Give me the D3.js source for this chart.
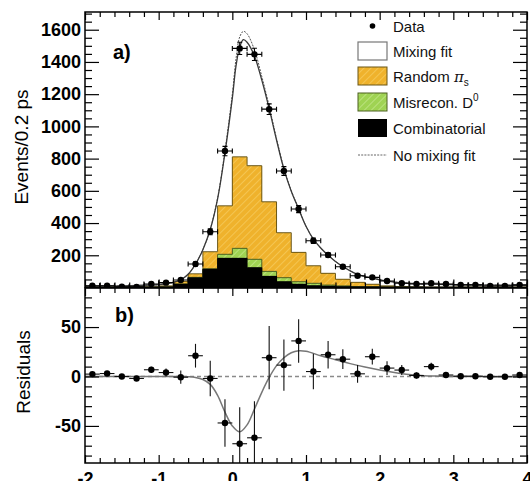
<!DOCTYPE html>
<html><head><meta charset="utf-8">
<script src="https://cdn.jsdelivr.net/npm/d3@7"></script>
<style>
body{margin:0;background:#fff}
svg{display:block}
text{font-family:"Liberation Sans",Arial,Helvetica,sans-serif}
</style>
</head><body>
<svg id="c" width="530" height="481"></svg>
<script>
// ---------------- data ----------------
const binStarts = [-2.0,-1.8,-1.6,-1.4,-1.2,-1.0,-0.8,-0.6,-0.4,-0.2,0.0,0.2,0.4,0.6,0.8,1.0,1.2,1.4,1.6,1.8,2.0,2.2,2.4,2.6,2.8,3.0,3.2,3.4,3.6,3.8];
const binCenters = [-1.9,-1.7,-1.5,-1.3,-1.1,-0.9,-0.7,-0.5,-0.3,-0.1,0.1,0.3,0.5,0.7,0.9,1.1,1.3,1.5,1.7,1.9,2.1,2.3,2.5,2.7,2.9,3.1,3.3,3.5,3.7,3.9];
const binWidth = 0.2;
const combinatorial = [2,2,2,2,2,3,20,60,113,181,181,123,69,36,20,11,8,5,3,3,2,2,2,1,1,1,1,1,1,1];
const misreconD0    = [0,0,0,0,0,1,2,3,3,25,62,52,31,25,16,15,7,5,3,2,1,1,0,0,0,0,0,0,0,0];
const randomPis     = [2,2,2,2,2,6,16,22,106,301,568,581,432,279,182,109,73,41,26,15,7,3,2,1,1,1,1,1,1,1];
const dataCounts    = [11,11,5,4,22,30,47,146,346,847,1484,1447,1107,723,487,290,202,129,73,63,40,26,22,26,22,16,16,9,9,16];
const dataErrors    = [3,3,2,2,5,6,7,12,19,29,38,38,33,27,22,17,14,11,9,8,6,5,5,5,5,4,4,3,3,4];
const fitX          = [-2,-1.5,-1.2,-1.0,-0.9,-0.8,-0.7,-0.6,-0.5,-0.4,-0.3,-0.2,-0.1,0.0,0.05,0.1,0.15,0.2,0.3,0.4,0.5,0.6,0.7,0.8,0.9,1.0,1.1,1.2,1.3,1.4,1.5,1.6,1.7,1.8,1.9,2.0,2.2,2.5,3.0,3.5,4.0];
const mixingFit     = [9,10,14,18,24,32,48,82,145,235,360,550,835,1175,1375,1492,1538,1522,1437,1287,1110,915,735,598,488,380,300,245,200,162,130,103,82,68,58,48,34,24,18,15,13];
const noMixingFit   = [9,10,14,18,24,32,48,82,145,235,362,556,850,1200,1420,1555,1590,1575,1475,1310,1125,925,740,601,490,381,300,245,200,162,130,103,82,68,58,48,34,24,18,15,13];
const residuals     = [2.4,3,0,-2,6.8,4,-0.7,21,-2,-47,-68,-62,19,11.5,36,5,22,17.5,2.7,20,8.5,6.5,1,10,1.5,0.3,0.3,-0.3,-0.3,1.5];
const residualErrors= [2,2,2,2,3,4,6.7,12,18,24,37,37,32,26,22,18,14,10,9,8,7,5,3,4,2,2,2,2,2,2];
const resFitX       = [-2,-0.7,-0.6,-0.5,-0.4,-0.3,-0.2,-0.1,0.0,0.1,0.2,0.3,0.4,0.5,0.6,0.7,0.8,0.9,1.0,1.2,1.4,1.6,1.8,2.0,2.2,2.4,2.6,2.8,3.0,4.0];
const resFit        = [0,0,-0.3,-1,-3,-8,-19,-36,-50,-56,-49,-33,-16,-1,11,19,24,26,25.5,21,17,13,9.5,6.5,4,2,0.8,0.3,0,0];
const xTickValues = [-2,-1,0,1,2,3,4];
const xTickLabels = ["-2","-1","0","1","2","3","4"];
const yTickValues = [200,400,600,800,1000,1200,1400,1600];
const yTickLabels = ["200","400","600","800","1000","1200","1400","1600"];
const resTickValues = [-50,0,50];
const resTickLabels = ["-50","0","50"];
const legendLabels = ["Data","Mixing fit","Random ","Misrecon. D","Combinatorial","No mixing fit"];

// ---------------- layout ----------------
const L=85, R=527, T1=12, B1=287.5, T2=288, B2=463;
const svg = d3.select("#c");
const x  = d3.scaleLinear([-2,4],[L,R]);
const y1 = d3.scaleLinear([0,1710],[B1,T1]);
const y2 = d3.scaleLinear([-87.5,89.5],[B2,T2]);

const defs = svg.append("defs");
function hatch(id, base, line){
  const p = defs.append("pattern").attr("id",id).attr("patternUnits","userSpaceOnUse")
    .attr("width",5).attr("height",5).attr("patternTransform","rotate(45)");
  p.append("rect").attr("width",5).attr("height",5).attr("fill",base);
  p.append("line").attr("x1",0).attr("y1",0).attr("x2",0).attr("y2",5).attr("stroke",line).attr("stroke-width",1.6);
}
hatch("hOr","#efb22c","#f6ca5c");
hatch("hGr","#9fd353","#c2e689");
defs.append("clipPath").attr("id","clip1").append("rect").attr("x",L).attr("y",T1).attr("width",R-L).attr("height",B1-T1);
defs.append("clipPath").attr("id","clip2").append("rect").attr("x",L).attr("y",T2).attr("width",R-L).attr("height",B2-T2);

// ---------------- top panel ----------------
const g1 = svg.append("g").attr("clip-path","url(#clip1)");
const cumBlack = combinatorial.slice();
const cumGreen = combinatorial.map((v,i)=>v+misreconD0[i]);
const cumOrange = cumGreen.map((v,i)=>v+randomPis[i]);
const layers = [
  {tops:cumOrange, fill:"url(#hOr)", stroke:"#6b5716"},
  {tops:cumGreen, fill:"url(#hGr)", stroke:"#4d6020"},
  {tops:cumBlack, fill:"#000", stroke:"#000"}
];
const stepLine = d3.line().x(d=>x(d[0])).y(d=>y1(d[1])).curve(d3.curveStepAfter);
layers.forEach(ly=>{
  g1.append("g").selectAll("rect").data(binStarts).join("rect")
    .attr("x",d=>x(d)).attr("width",d=>x(d+binWidth)-x(d))
    .attr("y",(d,i)=>y1(ly.tops[i])).attr("height",(d,i)=>y1(0)-y1(ly.tops[i]))
    .attr("fill",ly.fill).attr("shape-rendering","crispEdges");
  const pts = binStarts.map((b,i)=>[b,ly.tops[i]]);
  pts.push([4.0, ly.tops[ly.tops.length-1]]);
  g1.append("path").attr("d",stepLine(pts)).attr("fill","none").attr("stroke",ly.stroke).attr("stroke-width",1);
});

const fitLine = d3.line().x(d=>x(d[0])).y(d=>y1(d[1])).curve(d3.curveCatmullRom);
g1.append("path").attr("d",fitLine(fitX.map((v,i)=>[v,noMixingFit[i]])))
  .attr("fill","none").attr("stroke","#555").attr("stroke-width",1).attr("stroke-dasharray","2,1.2");
g1.append("path").attr("d",fitLine(fitX.map((v,i)=>[v,mixingFit[i]])))
  .attr("fill","none").attr("stroke","#3a3a3a").attr("stroke-width",1.3);

const dp = g1.append("g").attr("stroke","#000").attr("stroke-width",1.1);
binCenters.forEach((c,i)=>{
  const yy = y1(dataCounts[i]);
  dp.append("line").attr("x1",x(c-binWidth/2)).attr("x2",x(c+binWidth/2)).attr("y1",yy).attr("y2",yy);
  dp.append("line").attr("x1",x(c-binWidth/2)).attr("x2",x(c-binWidth/2)).attr("y1",yy-2.5).attr("y2",yy+2.5);
  dp.append("line").attr("x1",x(c+binWidth/2)).attr("x2",x(c+binWidth/2)).attr("y1",yy-2.5).attr("y2",yy+2.5);
  dp.append("line").attr("x1",x(c)).attr("x2",x(c)).attr("y1",y1(dataCounts[i]-dataErrors[i])).attr("y2",y1(dataCounts[i]+dataErrors[i]));
  dp.append("line").attr("x1",x(c)-2.5).attr("x2",x(c)+2.5).attr("y1",y1(dataCounts[i]+dataErrors[i])).attr("y2",y1(dataCounts[i]+dataErrors[i]));
  dp.append("line").attr("x1",x(c)-2.5).attr("x2",x(c)+2.5).attr("y1",y1(dataCounts[i]-dataErrors[i])).attr("y2",y1(dataCounts[i]-dataErrors[i]));
  dp.append("circle").attr("cx",x(c)).attr("cy",yy).attr("r",3.2).attr("fill","#000").attr("stroke","none");
});

// ---------------- bottom panel ----------------
const g2 = svg.append("g").attr("clip-path","url(#clip2)");
g2.append("line").attr("x1",L).attr("x2",R).attr("y1",y2(0)).attr("y2",y2(0))
  .attr("stroke","#8a8a8a").attr("stroke-width",1.5).attr("stroke-dasharray","4,3");
const resLine = d3.line().x(d=>x(d[0])).y(d=>y2(d[1])).curve(d3.curveCatmullRom);
g2.append("path").attr("d",resLine(resFitX.map((v,i)=>[v,resFit[i]])))
  .attr("fill","none").attr("stroke","#777").attr("stroke-width",1.5);
const rp = g2.append("g").attr("stroke","#111").attr("stroke-width",1.1);
binCenters.forEach((c,i)=>{
  const yy = y2(residuals[i]);
  rp.append("line").attr("x1",x(c-binWidth/2)).attr("x2",x(c+binWidth/2)).attr("y1",yy).attr("y2",yy);
  rp.append("line").attr("x1",x(c)).attr("x2",x(c)).attr("y1",y2(residuals[i]-residualErrors[i])).attr("y2",y2(residuals[i]+residualErrors[i]));
  rp.append("circle").attr("cx",x(c)).attr("cy",yy).attr("r",3.2).attr("fill","#000").attr("stroke","none");
});

// ---------------- axes ----------------
const xMinor = d3.range(-2,4.001,0.2).map(v=>+v.toFixed(1)).filter(v=>!xTickValues.includes(v));
function styleAxis(g){ g.select(".domain").remove(); g.selectAll(".tick line").attr("stroke","#000").attr("stroke-width",1.2); }
function styleText(g){ g.selectAll("text").attr("font-size",18).attr("font-weight","bold").attr("fill","#000").attr("font-family","Liberation Sans, Arial, sans-serif"); }
function xTicks(yPos, axisFn, dir, labels){
  const gMaj = svg.append("g").attr("transform",`translate(0,${yPos})`)
    .call(axisFn(x).tickValues(xTickValues).tickSize(dir*8).tickPadding(9)
      .tickFormat(labels ? (d,i)=>xTickLabels[i] : ""));
  styleAxis(gMaj);
  const gMin = svg.append("g").attr("transform",`translate(0,${yPos})`)
    .call(axisFn(x).tickValues(xMinor).tickSize(dir*5).tickFormat(""));
  styleAxis(gMin);
  return gMaj;
}
xTicks(T1, d3.axisTop, -1, false);
xTicks(B1, d3.axisBottom, -1, false);
xTicks(T2, d3.axisTop, -1, false);
styleText(xTicks(B2, d3.axisBottom, -1, true));

function yTicks(scale, major, labels, minor){
  const gl = svg.append("g").attr("transform",`translate(${L},0)`)
    .call(d3.axisLeft(scale).tickValues(major).tickSize(-14).tickPadding(4).tickFormat((d,i)=>labels[i]));
  styleAxis(gl); styleText(gl);
  styleAxis(svg.append("g").attr("transform",`translate(${L},0)`).call(d3.axisLeft(scale).tickValues(minor).tickSize(-7).tickFormat("")));
  styleAxis(svg.append("g").attr("transform",`translate(${R},0)`).call(d3.axisRight(scale).tickValues(major).tickSize(-14).tickFormat("")));
  styleAxis(svg.append("g").attr("transform",`translate(${R},0)`).call(d3.axisRight(scale).tickValues(minor).tickSize(-7).tickFormat("")));
}
yTicks(y1, yTickValues, yTickLabels, d3.range(50,1701,50).filter(v=>v%200!==0));
yTicks(y2, resTickValues, resTickLabels, d3.range(-80,81,10).filter(v=>v%50!==0));

// frames
svg.append("rect").attr("x",L).attr("y",T1).attr("width",R-L).attr("height",B1-T1).attr("fill","none").attr("stroke","#000").attr("stroke-width",1.5);
svg.append("rect").attr("x",L).attr("y",T2).attr("width",R-L).attr("height",B2-T2).attr("fill","none").attr("stroke","#000").attr("stroke-width",1.5);

// titles
svg.append("text").attr("transform","translate(28,147) rotate(-90)").attr("text-anchor","middle")
  .attr("font-size",19).attr("fill","#000").text("Events/0.2 ps");
svg.append("text").attr("transform","translate(30,372) rotate(-90)").attr("text-anchor","middle")
  .attr("font-size",19).attr("fill","#000").text("Residuals");
svg.append("text").attr("x",113).attr("y",59).attr("font-size",20).attr("font-weight","bold").text("a)");
svg.append("text").attr("x",115).attr("y",322).attr("font-size",20).attr("font-weight","bold").text("b)");

// ---------------- legend ----------------
const lg = svg.append("g");
const lx = 358, lw = 29, lh = 18, tx = 393;
const rowsY = [26,51,76,102,128,155];
lg.append("circle").attr("cx",lx+lw/2).attr("cy",rowsY[0]).attr("r",2.8).attr("fill","#000");
lg.append("rect").attr("x",lx).attr("y",rowsY[1]-lh/2).attr("width",lw).attr("height",lh).attr("fill","#fff").attr("stroke","#777").attr("stroke-width",1.2);
lg.append("rect").attr("x",lx).attr("y",rowsY[2]-lh/2).attr("width",lw).attr("height",lh).attr("fill","url(#hOr)").attr("stroke","#6b5716").attr("stroke-width",1);
lg.append("rect").attr("x",lx).attr("y",rowsY[3]-lh/2).attr("width",lw).attr("height",lh).attr("fill","url(#hGr)").attr("stroke","#4d6020").attr("stroke-width",1);
lg.append("rect").attr("x",lx).attr("y",rowsY[4]-lh/2).attr("width",lw).attr("height",lh).attr("fill","#000");
lg.append("line").attr("x1",lx).attr("x2",lx+lw).attr("y1",rowsY[5]).attr("y2",rowsY[5]).attr("stroke","#666").attr("stroke-width",1).attr("stroke-dasharray","2,1.2");
const fs = 15;
legendLabels.forEach((t,i)=>{
  const te = lg.append("text").attr("x",tx).attr("y",rowsY[i]+5.5).attr("font-size",fs).attr("fill","#111").text(t);
  if(i===2){
    te.append("tspan").attr("font-family","DejaVu Serif, serif").attr("font-style","italic").text("π");
    te.append("tspan").attr("font-size",10).attr("dy",4).text("s");
  }
  if(i===3){
    te.append("tspan").attr("font-size",10).attr("dy",-7).text("0");
  }
});
</script>
</body></html>
